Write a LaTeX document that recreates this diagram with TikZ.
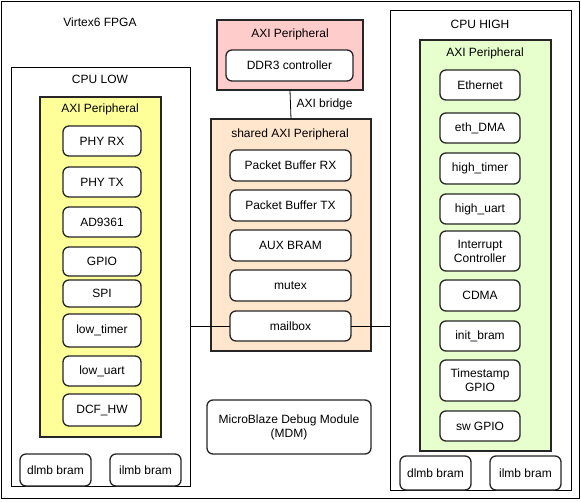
\documentclass[tikz,border=0pt]{standalone}
\usepackage{fontspec}
\setmainfont{Liberation Sans}
\begin{document}
\begin{tikzpicture}[x=1pt,y=-1pt,
  every node/.style={inner sep=0pt,outer sep=0pt,font=\fontsize{12}{14}\selectfont},
  frame/.style={draw=black,line width=0.8pt},
  cont/.style={draw=black!85,line width=1.2pt},
  item/.style={draw=black!85,line width=1.3pt,rounded corners=6pt,fill=white,align=center},
  lbl/.style={align=center},
  wire/.style={draw=black,line width=0.8pt}]
\definecolor{cyel}{HTML}{FFFF99}
\definecolor{cpink}{HTML}{FFCCCC}
\definecolor{cpeach}{HTML}{FFE6CC}
\definecolor{cgreen}{HTML}{E6FFCC}
\newcommand{\mkbox}[7]{\node[#6,minimum width={(#4-#2)*1pt},minimum height={(#5-#3)*1pt}] (#1) at ({(#2+#4)/2},{(#3+#5)/2}) {#7};}
\useasboundingbox (0,0) rectangle (581,501);
% outer frame
\mkbox{fpga}{1}{1}{579}{498}{frame}{}
\node[lbl] (fpgalbl) at (100,22) {Virtex6 FPGA};
% CPU LOW
\mkbox{cpulow}{11}{67}{190}{486}{frame,fill=white}{}
\node[lbl] (cpulowlbl) at (100,79) {CPU LOW};
\mkbox{axil}{40}{97}{161}{437}{cont,fill=cyel}{}
\node[lbl] (axillbl) at (100,109) {AXI Peripheral};
\mkbox{phyrx}{63}{126}{141}{156}{item}{PHY RX}
\mkbox{phytx}{63}{167}{141}{197}{item}{PHY TX}
\mkbox{ad}{63}{207}{141}{237}{item}{AD9361}
\mkbox{gpio}{63}{247}{141}{276}{item}{GPIO}
\mkbox{spi}{63}{280}{141}{307}{item}{SPI}
\mkbox{lowtimer}{63}{314}{141}{347}{item}{low\_timer}
\mkbox{lowuart}{63}{356}{141}{386}{item}{low\_uart}
\mkbox{dcf}{63}{394}{141}{426}{item}{DCF\_HW}
\mkbox{dlmbl}{20}{454}{91}{486}{item}{dlmb bram}
\mkbox{ilmbl}{110}{454}{181}{486}{item}{ilmb bram}
% DDR3
\mkbox{axiddr}{217}{20}{363}{90}{cont,fill=cpink}{}
\node[lbl] (axiddrlbl) at (290,34) {AXI Peripheral};
\mkbox{ddr}{226}{50}{353}{81}{item}{DDR3 controller}
% shared
\mkbox{shared}{211}{119}{371}{351}{cont,fill=cpeach}{}
\node[lbl] (sharedlbl) at (290,134) {shared AXI Peripheral};
\mkbox{pbrx}{230}{150}{351}{181}{item}{Packet Buffer RX}
\mkbox{pbtx}{230}{190}{351}{221}{item}{Packet Buffer TX}
\mkbox{aux}{230}{230}{351}{261}{item}{AUX BRAM}
\mkbox{mutex}{230}{270}{351}{301}{item}{mutex}
\mkbox{mailbox}{230}{311}{351}{341}{item}{mailbox}
\draw[wire] (axiddr.south) -- node[right=6pt,lbl] (bridgelbl) {AXI bridge} (shared.north);
% MDM
\mkbox{mdm}{207}{400}{371}{454}{item}{MicroBlaze Debug Module\\(MDM)}
% CPU HIGH
\mkbox{cpuhigh}{390}{10}{571}{490}{frame,fill=white}{}
\node[lbl] (cpuhighlbl) at (480,24) {CPU HIGH};
\mkbox{axih}{420}{40}{551}{451}{cont,fill=cgreen}{}
\node[lbl] (axihlbl) at (485,53) {AXI Peripheral};
\mkbox{eth}{440}{70}{520}{100}{item}{Ethernet}
\mkbox{ethdma}{440}{113}{520}{143}{item}{eth\_DMA}
\mkbox{htimer}{440}{153}{520}{184}{item}{high\_timer}
\mkbox{huart}{440}{194}{520}{224}{item}{high\_uart}
\mkbox{intc}{440}{231}{520}{271}{item}{Interrupt\\Controller}
\mkbox{cdma}{440}{280}{520}{311}{item}{CDMA}
\mkbox{initb}{440}{321}{520}{351}{item}{init\_bram}
\mkbox{tsgpio}{440}{360}{520}{401}{item}{Timestamp\\GPIO}
\mkbox{swgpio}{440}{411}{520}{441}{item}{sw GPIO}
\mkbox{dlmbh}{400}{456}{471}{490}{item}{dlmb bram}
\mkbox{ilmbh}{490}{456}{561}{490}{item}{ilmb bram}
% mailbox wires
\draw[wire] (mailbox.west) -- (mailbox.west -| cpulow.east);
\draw[wire] (mailbox.east) -- (mailbox.east -| cpuhigh.west);
\end{tikzpicture}
\end{document}
